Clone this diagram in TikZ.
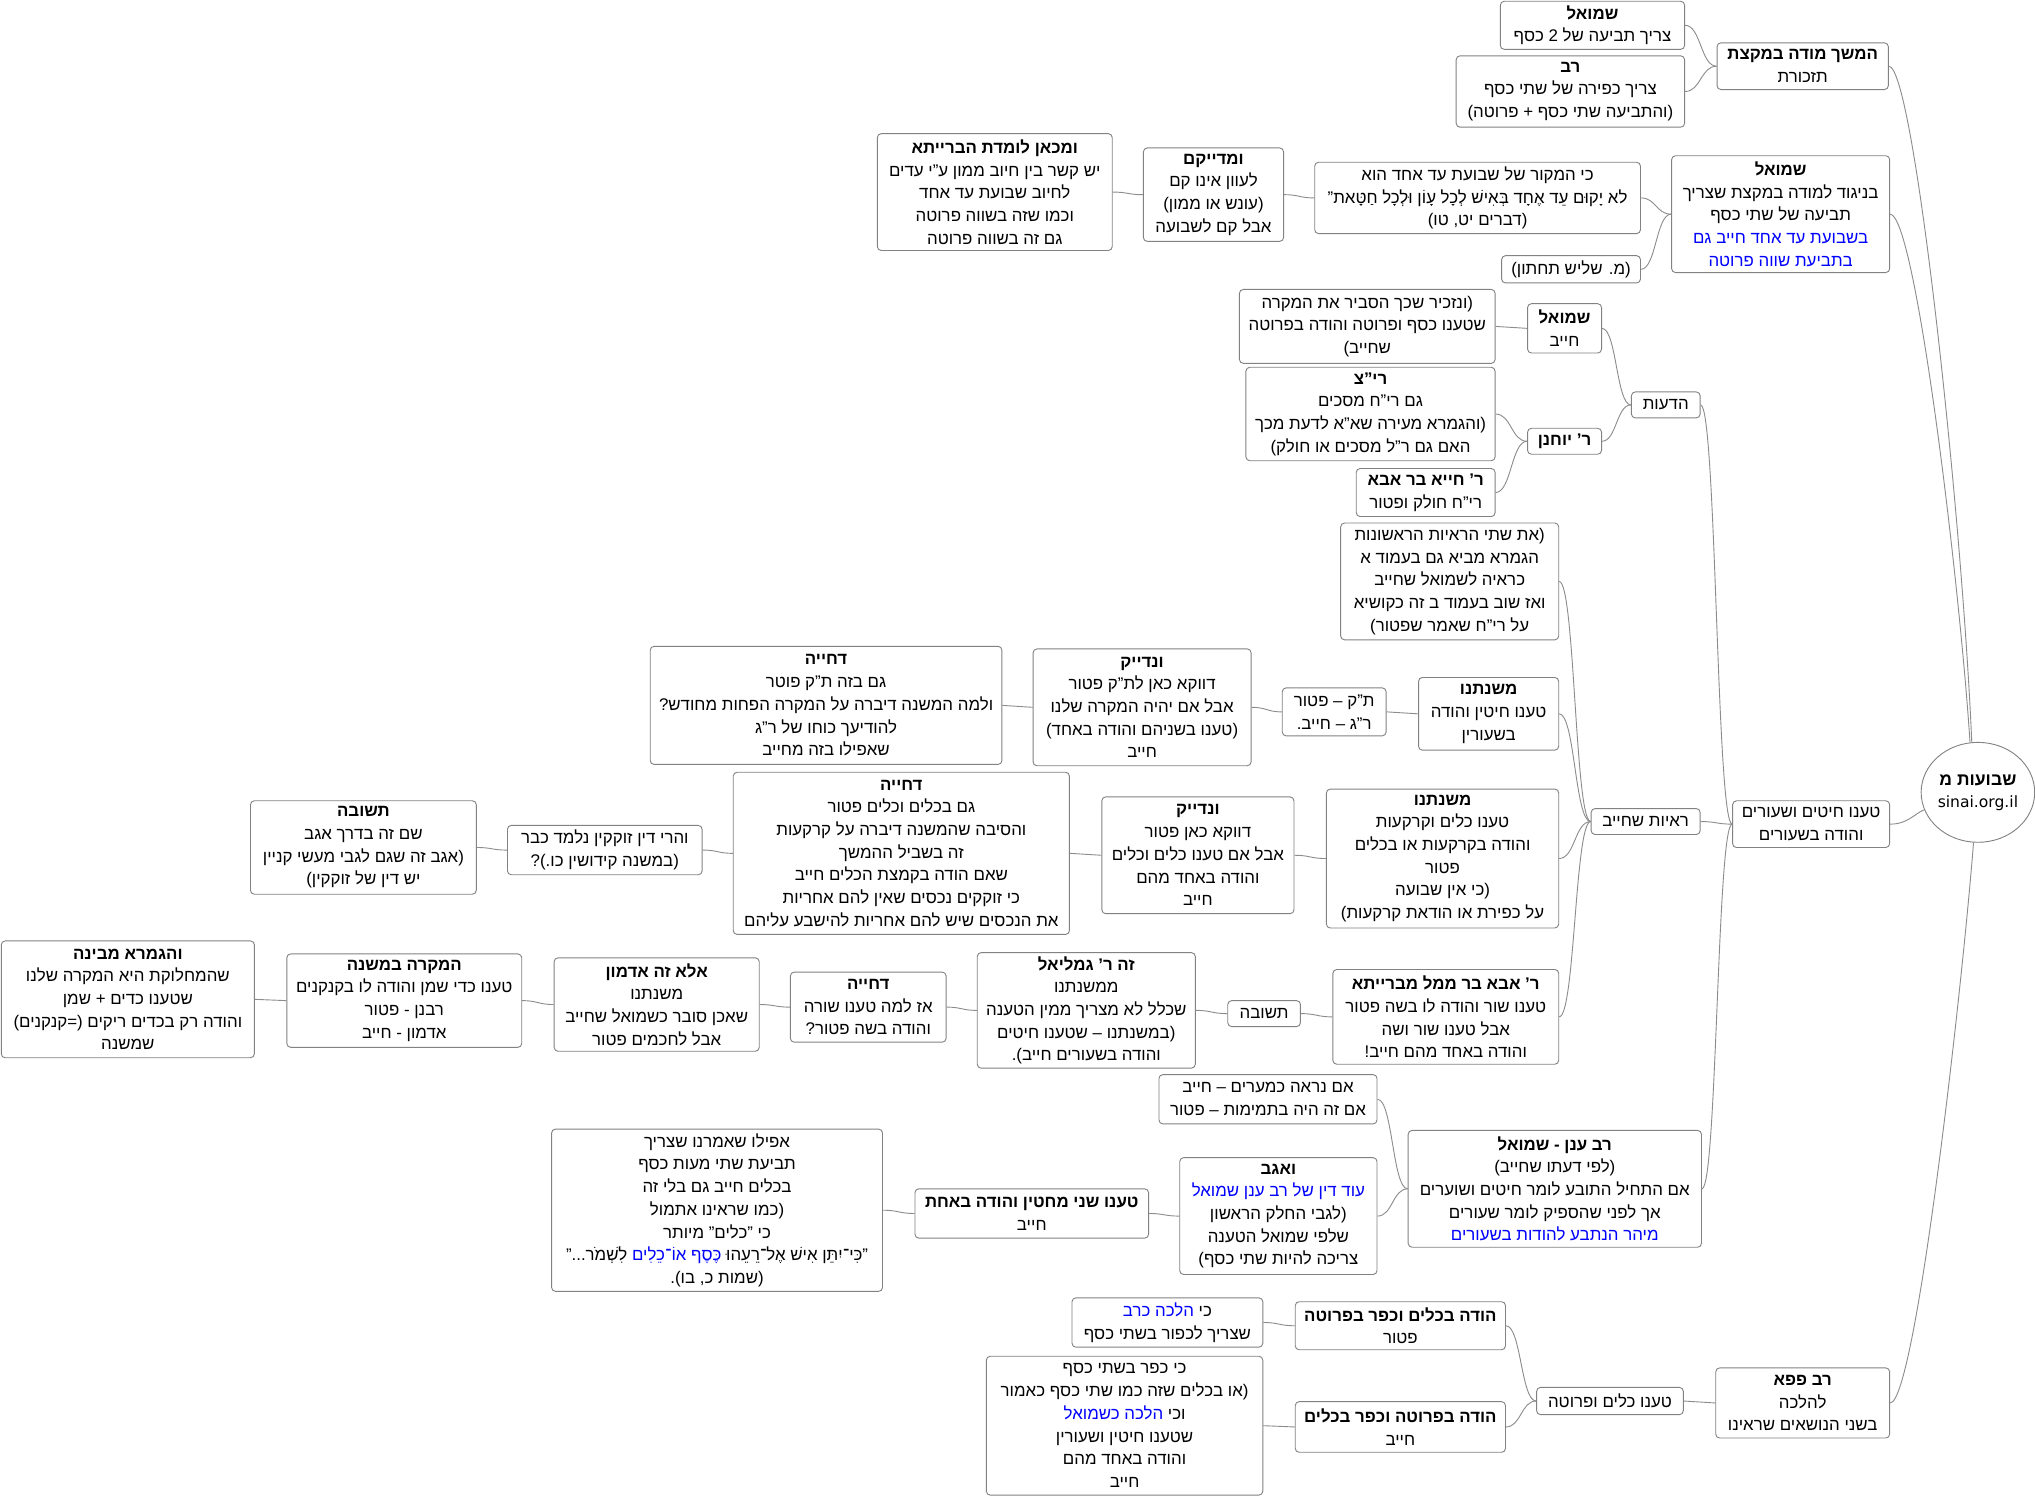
\documentclass[tikz,border=0pt]{standalone}
\usepackage{fontspec}
\setmainfont{Liberation Sans}[Script=Hebrew]
\newfontfamily\latinfont{DejaVu Sans}
\TeXXeTstate=1
\usetikzlibrary{shapes.geometric,calc}
\definecolor{boxgray}{RGB}{130,130,130}
\definecolor{edgegray}{RGB}{140,140,140}
\definecolor{hblue}{RGB}{0,0,255}
\newcommand\heb[1]{\beginR #1\endR}
\newcommand\hb[1]{\textbf{\heb{#1}}}
\newcommand\hbl[1]{\textcolor{hblue}{\heb{#1}}}
\newcommand\bx[6]{\node[box, minimum width=#4pt, minimum height=#5pt] (#1) at (#2,#3) {#6};}
\newcommand\edge[2]{\path (#1.west) -- (#2.east) coordinate[pos=.5] (mid);
  \draw[edge] (#1.west) .. controls (mid |- #1.west) and (mid |- #2.east) .. (#2.east);}
\tikzset{
  box/.style={draw=boxgray, rounded corners=3pt, fill=white, align=center,
    inner xsep=3pt, inner ysep=1pt, line width=0.7pt,
    font=\fontsize{13}{17.5}\selectfont},
  edge/.style={draw=edgegray, line width=0.7pt}
}
\begin{document}
\begin{tikzpicture}[x=1pt,y=-1pt]
\fill[white] (0,0) rectangle (1568,1153);
\useasboundingbox (0,0) rectangle (1568,1153);

% root
\node[ellipse, draw=boxgray, line width=0.7pt, fill=white, minimum width=86pt, minimum height=77pt, inner sep=0pt, align=center, font=\fontsize{13.5}{17}\selectfont] (root) at (1524,610.5) {\hb{שבועות מ}\\ {\latinfont\fontsize{12}{16}\selectfont sinai.org.il}};

\bx{n1}{1389}{51}{132}{36}{\hb{המשך מודה במקצת}\\ \heb{תזכורת}}
\bx{n2}{1227}{19.5}{142}{37}{\hb{שמואל}\\ \heb{צריך תביעה של 2 כסף}}
\bx{n3}{1210}{70.5}{176}{55}{\hb{רב}\\ \heb{צריך כפירה של שתי כסף}\\ \heb{(והתביעה שתי כסף + פרוטה)}}
\bx{n4}{1372}{165}{168}{90}{\hb{שמואל}\\ \heb{בניגוד למודה במקצת שצריך}\\ \heb{תביעה של שתי כסף}\\ \hbl{בשבועת עד אחד חייב גם}\\ \hbl{בתביעת שווה פרוטה}}
\bx{n5}{1138.5}{152.5}{251}{55}{\heb{כי המקור של שבועת עד אחד הוא}\\ \heb{לא יָקוּם עֵד אֶחָד בְּאִישׁ לְכָל עָוֹן וּלְכָל חַטָּאת"}\\ \heb{(דברים יט, טו)}}
\bx{n6}{1210.5}{207.5}{107}{21}{\heb{(מ. שליש תחתון)}}
\bx{n7}{935}{150}{108}{72}{\hb{ומדייקם}\\ \heb{לעוון אינו קם}\\ \heb{(עונש או ממון)}\\ \heb{אבל קם לשבועה}}
\bx{n8}{766.5}{148}{181}{90}{\hb{ומכאן לומדת הברייתא}\\ \heb{יש קשר בין חיוב ממון ע"י עדים}\\ \heb{לחיוב שבועת עד אחד}\\ \heb{וכמו שזה בשווה פרוטה}\\ \heb{גם זה בשווה פרוטה}}

\bx{n34}{1395.5}{635}{121}{36}{\heb{טענו חיטים ושעורים}\\ \heb{והודה בשעורים}}
\bx{n9}{1283.5}{312}{53}{20}{\heb{הדעות}}
\bx{n10}{1205.5}{253}{57}{38}{\hb{שמואל}\\ \heb{חייב}}
\bx{n11}{1205.5}{340}{57}{20}{\hb{ר' יוחנן}}
\bx{n12}{1053.5}{251.5}{197}{57}{\heb{(ונזכיר שכך הסביר את המקרה}\\ \heb{שטענו כסף ופרוטה והודה בפרוטה}\\ \heb{שחייב)}}
\bx{n13}{1056}{319}{192}{72}{\hb{רי"צ}\\ \heb{גם רי"ח מסכים}\\ \heb{(והגמרא מעירה שא"א לדעת מכך}\\ \heb{האם גם ר"ל מסכים או חולק)}}
\bx{n14}{1098.5}{379.5}{107}{37}{\hb{ר' חייא בר אבא}\\ \heb{רי"ח חולק ופטור}}

\bx{n15}{1268}{633}{84}{20}{\heb{ראיות שחייב}}
\bx{n16}{1117}{448}{168}{90}{\heb{(את שתי הראיות הראשונות}\\ \heb{הגמרא מביא גם בעמוד א}\\ \heb{כראיה לשמואל שחייב}\\ \heb{ואז שוב בעמוד ב זה כקושיא}\\ \heb{על רי"ח שאמר שפטור)}}
\bx{n17}{1147}{550}{108}{56}{\hb{משנתנו}\\ \heb{טענו חיטין והודה}\\ \heb{בשעורין}}
\bx{n18}{1111.5}{661.5}{179}{107}{\hb{משנתנו}\\ \heb{טענו כלים וקרקעות}\\ \heb{והודה בקרקעות או בכלים}\\ \heb{פטור}\\ \heb{(כי אין שבועה}\\ \heb{על כפירת או הודאת קרקעות)}}
\bx{n19}{1114}{783.5}{174}{73}{\hb{ר' אבא בר ממל מברייתא}\\ \heb{טענו שור והודה לו בשה פטור}\\ \heb{אבל טענו שור ושה}\\ \heb{והודה באחד מהם חייב!}}
\bx{n20}{1028}{548.5}{80}{37}{\heb{ת"ק – פטור}\\ \heb{ר"ג – חייב.}}
\bx{n21}{880}{545}{168}{90}{\hb{ונדייק}\\ \heb{דווקא כאן לת"ק פטור}\\ \heb{אבל אם יהיה המקרה שלנו}\\ \heb{(טענו בשניהם והודה באחד)}\\ \heb{חייב}}
\bx{n22}{636.5}{543.5}{271}{91}{\hb{דחייה}\\ \heb{גם בזה ת"ק פוטר}\\ \heb{ולמה המשנה דיברה על המקרה הפחות מחודש?}\\ \heb{להודיעך כוחו של ר"ג}\\ \heb{שאפילו בזה מחייב}}
\bx{n23}{923}{659}{148}{90}{\hb{ונדייק}\\ \heb{דווקא כאן פטור}\\ \heb{אבל אם טענו כלים וכלים}\\ \heb{והודה באחד מהם}\\ \heb{חייב}}
\bx{n24}{694.5}{657.5}{259}{125}{\hb{דחייה}\\ \heb{גם בכלים וכלים פטור}\\ \heb{והסיבה שהמשנה דיברה על קרקעות}\\ \heb{זה בשביל ההמשך}\\ \heb{שאם הודה בקמצת הכלים חייב}\\ \heb{כי זוקקים נכסים שאין להם אחריות}\\ \heb{את הנכסים שיש להם אחריות להישבע עליהם}}
\bx{n25}{466}{655}{150}{38}{\heb{והרי דין זוקקין נלמד כבר}\\ \heb{(במשנה קידושין כו.)?}}
\bx{n26}{280}{653}{174}{72}{\hb{תשובה}\\ \heb{שם זה בדרך אגב}\\ \heb{(אגב זה שגם לגבי מעשי קניין}\\ \heb{יש דין של זוקקין)}}
\bx{n27}{974}{781}{56}{20}{\heb{תשובה}}
\bx{n28}{837}{778.5}{168}{89}{\hb{זה ר' גמליאל}\\ \heb{ממשנתנו}\\ \heb{שכלל לא מצריך ממין הטענה}\\ \heb{(במשנתנו – שטענו חיטים}\\ \heb{והודה בשעורים חייב).}}
\bx{n29}{669}{776}{120}{54}{\hb{דחייה}\\ \heb{אז למה טענו שורה}\\ \heb{והודה בשה פטור?}}
\bx{n30}{506}{774}{158}{72}{\hb{אלא זה אדמון}\\ \heb{משנתנו}\\ \heb{שאכן סובר כשמואל שחייב}\\ \heb{אבל לחכמים פטור}}
\bx{n31}{311.5}{771}{181}{72}{\hb{המקרה במשנה}\\ \heb{טענו כדי שמן והודה לו בקנקנים}\\ \heb{רבנן - פטור}\\ \heb{אדמון - חייב}}
\bx{n32}{98.5}{770}{195}{90}{\hb{והגמרא מבינה}\\ \heb{שהמחלוקת היא המקרה שלנו}\\ \heb{שטענו כדים + שמן}\\ \heb{והודה רק בכדים ריקים (=קנקנים)}\\ \heb{שמשנה}}

\bx{n33}{1198}{916}{226}{90}{\hb{רב ענן - שמואל}\\ \heb{(לפי דעתו שחייב)}\\ \heb{אם התחיל התובע לומר חיטים ושוערים}\\ \heb{אך לפני שהספיק לומר שעורים}\\ \hbl{מיהר הנתבע להודות בשעורים}}
\bx{n35}{977}{847}{168}{38}{\heb{אם נראה כמערים – חייב}\\ \heb{אם זה היה בתמימות – פטור}}
\bx{n36}{985}{937}{152}{90}{\hb{ואגב}\\ \hbl{עוד דין של רב ענן שמואל}\\ \heb{(לגבי החלק הראשון}\\ \heb{שלפי שמואל הטענה}\\ \heb{צריכה להיות שתי כסף)}}
\bx{n37}{795}{935}{180}{38}{\hb{טענו שני מחטין והודה באחת}\\ \heb{חייב}}
\bx{n38}{552.5}{932.5}{255}{125}{\heb{אפילו שאמרנו שצריך}\\ \heb{תביעת שתי מעות כסף}\\ \heb{בכלים חייב גם בלי זה}\\ \heb{(כמו שראינו אתמול}\\ \heb{כי "כלים" מיותר}\\ \heb{לִשְׁמֹר..."} \hbl{כֶּסֶף אוֹ־כֵלִים} \heb{"כִּי־יִתֵּן אִישׁ אֶל־רֵעֵהוּ}\\ \heb{(שמות כ, בו).}}

\bx{n39}{1389}{1081}{134}{54}{\hb{רב פפא}\\ \heb{להלכה}\\ \heb{בשני הנושאים שראינו}}
\bx{n40}{1240.5}{1079.5}{113}{21}{\heb{טענו כלים ופרוטה}}
\bx{n41}{1079}{1021.5}{162}{37}{\hb{הודה בכלים וכפר בפרוטה}\\ \heb{פטור}}
\bx{n42}{1079}{1099.5}{162}{39}{\hb{הודה בפרוטה וכפר בכלים}\\ \heb{חייב}}
\bx{n43}{899.5}{1019}{147}{38}{\hbl{הלכה כרב} \heb{כי}\\ \heb{שצריך לכפור בשתי כסף}}
\bx{n44}{866.5}{1098.5}{213}{107}{\heb{כי כפר בשתי כסף}\\ \heb{(או בכלים שזה כמו שתי כסף כאמור}\\ \hbl{הלכה כשמואל} \heb{וכי}\\ \heb{שטענו חיטין ושעורין}\\ \heb{והודה באחד מהם}\\ \heb{חייב}}

% root edges
\draw[edge] (n1.east) .. controls (1475,51) and (1512,400) .. (root.97);
\draw[edge] (n4.east) .. controls (1476,165) and (1510,450) .. (root.99);
\draw[edge] (n34.east) .. controls (1470,635) and (1475,627) .. (root.198);
\draw[edge] (n39.east) .. controls (1476,1081) and (1512,760) .. (root.265);

% tree edges
\edge{n1}{n2}\edge{n1}{n3}
\edge{n4}{n5}\edge{n4}{n6}
\edge{n5}{n7}\edge{n7}{n8}
\edge{n34}{n9}\edge{n34}{n15}\edge{n34}{n33}
\edge{n9}{n10}\edge{n9}{n11}
\edge{n10}{n12}
\edge{n11}{n13}\edge{n11}{n14}
\edge{n15}{n16}\edge{n15}{n17}\edge{n15}{n18}\edge{n15}{n19}
\edge{n17}{n20}\edge{n20}{n21}\edge{n21}{n22}
\edge{n18}{n23}\edge{n23}{n24}\edge{n24}{n25}\edge{n25}{n26}
\edge{n19}{n27}\edge{n27}{n28}\edge{n28}{n29}\edge{n29}{n30}\edge{n30}{n31}\edge{n31}{n32}
\edge{n33}{n35}\edge{n33}{n36}
\edge{n36}{n37}\edge{n37}{n38}
\edge{n39}{n40}
\edge{n40}{n41}\edge{n40}{n42}
\edge{n41}{n43}\edge{n42}{n44}
\end{tikzpicture}
\end{document}
